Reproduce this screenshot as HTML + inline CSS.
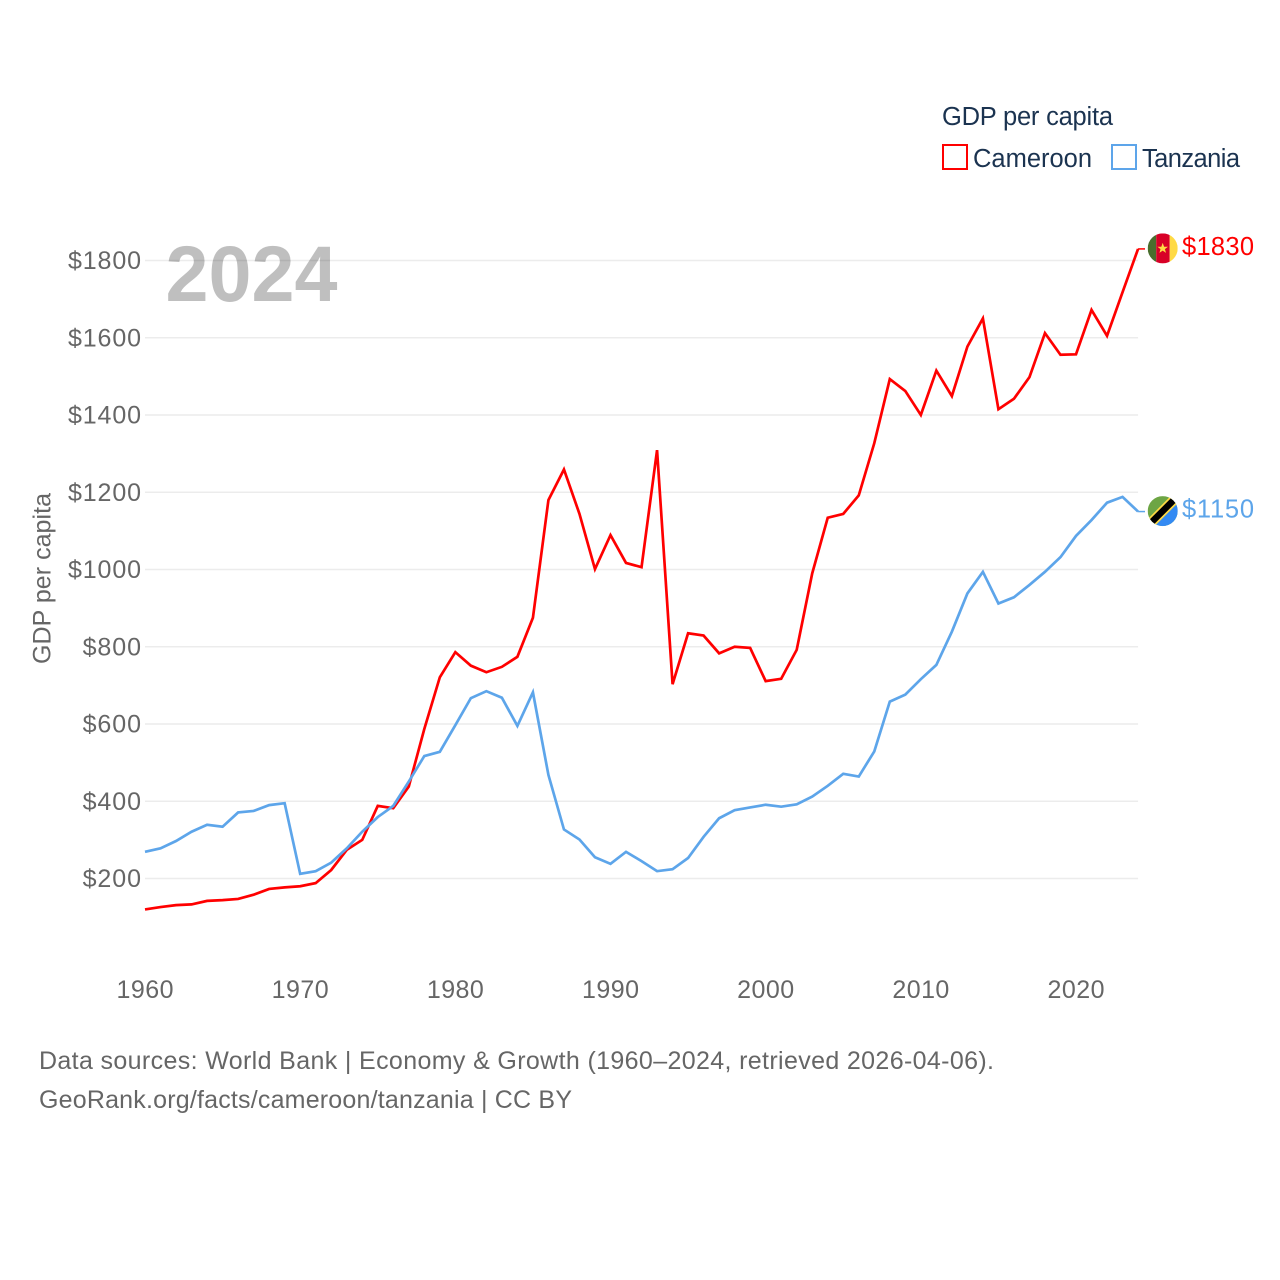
<!DOCTYPE html>
<html lang="en">
<head>
<meta charset="utf-8">
<title>GDP per capita: Cameroon and Tanzania</title>
<style>
html,body{margin:0;padding:0;background:#fff;}
#chart{display:block;width:1280px;height:1280px;font-family:"Liberation Sans",sans-serif;}
</style>
</head>
<body>
<svg id="chart" xmlns="http://www.w3.org/2000/svg" width="1280" height="1280" viewBox="0 0 1280 1280">
  <defs>
    <clipPath id="flagClipA"><circle cx="0" cy="0" r="15"></circle></clipPath>
    <clipPath id="flagClipB"><circle cx="0" cy="0" r="15"></circle></clipPath>
  </defs>
  <rect x="0" y="0" width="1280" height="1280" fill="#ffffff"></rect>
  <g id="grid"></g>
  <text x="165.5" y="301" font-size="79" font-weight="700" fill="#000000" fill-opacity="0.25" textLength="172" lengthAdjust="spacingAndGlyphs">2024</text>
  <g id="yticks"></g>
  <g id="xticks"></g>
  <text transform="translate(50.5,578.5) rotate(-90)" text-anchor="middle" font-size="25" fill="#666666" textLength="171">GDP per capita</text>
  <g id="series"></g>

  <g id="legend">
    <text x="942" y="125" font-size="25.5" fill="#1b3350" textLength="171">GDP per capita</text>
    <rect x="943" y="145" width="24" height="24" fill="none" stroke="#ff0000" stroke-width="2"></rect>
    <text x="973" y="167" font-size="25.5" fill="#1b3350" textLength="119">Cameroon</text>
    <rect x="1112" y="145" width="24" height="24" fill="none" stroke="#5da5ea" stroke-width="2"></rect>
    <text x="1142" y="167" font-size="25.5" fill="#1b3350" textLength="98">Tanzania</text>
  </g>

  <g id="flagCameroon">
    <g clip-path="url(#flagClipA)">
      <rect x="-15" y="-15" width="8.5" height="30" fill="#496e2d"></rect>
      <rect x="-6.5" y="-15" width="13.5" height="30" fill="#d80027"></rect>
      <rect x="7" y="-15" width="8" height="30" fill="#ffda44"></rect>
      <polygon points="0,-5.5 1.4,-1.7 5.3,-1.7 2.2,0.7 3.3,4.5 0,2.2 -3.3,4.5 -2.2,0.7 -5.3,-1.7 -1.4,-1.7" fill="#ffda44"></polygon>
    </g>
  </g>
  <g id="flagTanzania">
    <g clip-path="url(#flagClipB)">
      <rect x="-15" y="-15" width="30" height="30" fill="#6da544"></rect>
      <polygon points="15,-15 15,15 -15,15" fill="#338af3"></polygon>
      <line x1="-15" y1="15" x2="15" y2="-15" stroke="#ffda44" stroke-width="10"></line>
      <line x1="-15" y1="15" x2="15" y2="-15" stroke="#000000" stroke-width="6.5"></line>
    </g>
  </g>

  <text x="39" y="1069" font-size="25" fill="#666666" textLength="955">Data sources: World Bank | Economy &amp; Growth (1960–2024, retrieved 2026-04-06).</text>
  <text x="39" y="1108" font-size="25" fill="#666666" textLength="533">GeoRank.org/facts/cameroon/tanzania | CC BY</text>
</svg>
<script>
var years = [];
for (var yr = 1960; yr <= 2024; yr++) { years.push(yr); }
var cameroon = [120,126,131,133,142,144,147,158,173,177,180,188,222,274,300,388,382,438,587,721,786,751,734,748,774,875,1180,1259,1144,1001,1089,1017,1006,1309,703,835,829,783,800,797,711,717,792,990,1134,1144,1192,1327,1493,1462,1400,1515,1449,1577,1650,1415,1442,1498,1612,1556,1557,1672,1605,1718,1830];
var tanzania = [269,278,297,321,339,334,371,375,390,395,212,219,241,278,321,359,388,451,517,528,597,667,685,668,595,682,468,327,301,255,238,269,245,219,224,253,308,356,377,384,391,386,392,412,440,471,464,529,658,676,716,753,839,938,994,912,928,960,994,1032,1087,1128,1173,1188,1150];
var yTickValues = [200,400,600,800,1000,1200,1400,1600,1800];
var xTickValues = [1960,1970,1980,1990,2000,2010,2020];

var SVGNS = 'http://www.w3.org/2000/svg';
function xScale(year) { return 145 + (year - 1960) * (931 / 60); }
function yScale(value) { return 955.75 - value * 0.38625; }
function make(tag, parent) {
  var el = document.createElementNS(SVGNS, tag);
  parent.appendChild(el);
  return el;
}

var grid = document.getElementById('grid');
var yticks = document.getElementById('yticks');
yTickValues.forEach(function (v) {
  var line = make('line', grid);
  
  
  line.setAttribute('x1', xScale(1960));
  line.setAttribute('x2', xScale(2024));
  line.setAttribute('y1', yScale(v));
  line.setAttribute('y2', yScale(v));
  line.setAttribute('stroke', '#ececec');
  line.setAttribute('stroke-width', '1.5');

  var label = make('text', yticks);
  
  
  var str = '$' + v;
  label.textContent = str;
  label.setAttribute('x', 141);
  label.setAttribute('y', yScale(v) + 8.5);
  label.setAttribute('text-anchor', 'end');
  label.setAttribute('font-size', '25');
  label.setAttribute('fill', '#666666');
  label.setAttribute('textLength', str.length * 14.6);
});

var xticks = document.getElementById('xticks');
xTickValues.forEach(function (yearValue) {
  var label = make('text', xticks);
  
  
  label.textContent = String(yearValue);
  label.setAttribute('x', xScale(yearValue));
  label.setAttribute('y', 998);
  label.setAttribute('text-anchor', 'middle');
  label.setAttribute('font-size', '25');
  label.setAttribute('fill', '#666666');
  label.setAttribute('textLength', '57');
});

function linePoints(values) {
  return values.map(function (v, i) {
    return xScale(years[i]).toFixed(2) + ',' + yScale(v).toFixed(2);
  }).join(' ');
}

var seriesGroup = document.getElementById('series');
var CONNECT_X = 1145;
var FLAG_X = 1162.7;
var LABEL_X = 1182;

var lineCameroon = make('polyline', seriesGroup);


lineCameroon.setAttribute('points', linePoints(cameroon));
lineCameroon.setAttribute('fill', 'none');
lineCameroon.setAttribute('stroke', '#ff0000');
lineCameroon.setAttribute('stroke-width', '2.7');

var lineTanzania = make('polyline', seriesGroup);


lineTanzania.setAttribute('points', linePoints(tanzania));
lineTanzania.setAttribute('fill', 'none');
lineTanzania.setAttribute('stroke', '#5da5ea');
lineTanzania.setAttribute('stroke-width', '2.7');

var lastC = cameroon[cameroon.length - 1];
var lastT = tanzania[tanzania.length - 1];

var connC = make('line', seriesGroup);


connC.setAttribute('x1', xScale(2024));
connC.setAttribute('x2', CONNECT_X);
connC.setAttribute('y1', yScale(lastC));
connC.setAttribute('y2', yScale(lastC));
connC.setAttribute('stroke', '#ff0000');
connC.setAttribute('stroke-width', '1.5');

var connT = make('line', seriesGroup);


connT.setAttribute('x1', xScale(2024));
connT.setAttribute('x2', CONNECT_X);
connT.setAttribute('y1', yScale(lastT));
connT.setAttribute('y2', yScale(lastT));
connT.setAttribute('stroke', '#5da5ea');
connT.setAttribute('stroke-width', '1.5');

document.getElementById('flagCameroon').setAttribute('transform', 'translate(' + FLAG_X + ',' + (yScale(lastC) - 0.5) + ')');
document.getElementById('flagTanzania').setAttribute('transform', 'translate(' + FLAG_X + ',' + (yScale(lastT) - 0.5) + ')');

var valC = make('text', seriesGroup);


valC.textContent = '$' + lastC;
valC.setAttribute('x', LABEL_X);
valC.setAttribute('y', yScale(lastC) + 6);
valC.setAttribute('font-size', '25.5');
valC.setAttribute('fill', '#ff0000');
valC.setAttribute('textLength', '72');

var valT = make('text', seriesGroup);


valT.textContent = '$' + lastT;
valT.setAttribute('x', LABEL_X);
valT.setAttribute('y', yScale(lastT) + 6);
valT.setAttribute('font-size', '25.5');
valT.setAttribute('fill', '#5da5ea');
valT.setAttribute('textLength', '72');
</script>
</body>
</html>
